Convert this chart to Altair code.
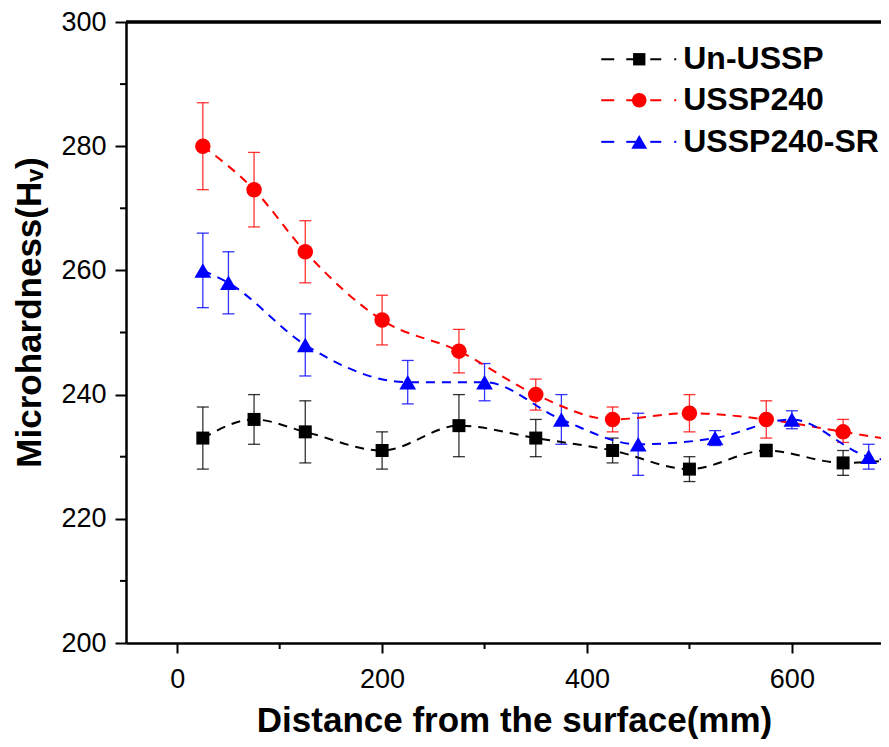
import altair as alt
import pandas as pd

series_names = ["Un-USSP", "USSP240", "USSP240-SR"]
series_colors = ["#000000", "#ff0000", "#0000ff"]
series_shapes = ["square", "circle", "triangle-up"]
series_sizes = [169, 240, 280]

# Un-USSP
x_un = [25, 75, 125, 200, 275, 350, 425, 500, 575, 650, 725]
y_un = [233, 236, 234, 231, 235, 233, 231, 228, 231, 229, 230]
lo_un = [228, 232, 229, 228, 230, 230, 229, 226, 230, 227, 229]
hi_un = [238, 240, 239, 234, 240, 236, 233, 230, 232, 231, 231]

# USSP240
x_r = [25, 75, 125, 200, 275, 350, 425, 500, 575, 650, 725]
y_r = [280, 273, 263, 252, 247, 240, 236, 237, 236, 234, 232]
lo_r = [273, 267, 258, 248, 243.5, 237.5, 234, 234, 233, 232.3, 230.5]
hi_r = [287, 279, 268, 256, 250.5, 242.5, 238, 240, 239, 236, 233.5]

# USSP240-SR
x_b = [25, 50, 125, 225, 300, 375, 450, 525, 600, 675, 750]
y_b = [260, 258, 248, 242, 242, 236, 232, 233, 236, 230, 228.5]
lo_b = [254, 253, 243, 238.5, 239, 232, 227, 231.8, 234.5, 228, 227]
hi_b = [266, 263, 253, 245.5, 245, 240, 237, 234.2, 237.4, 232, 230]

y_ticks = [200, 220, 240, 260, 280, 300]
y_minor = [210, 230, 250, 270, 290]
x_ticks = [0, 200, 400, 600]
x_minor = [100, 300, 500]

rows = []
for name, xs, ys, los, his in [
    (series_names[0], x_un, y_un, lo_un, hi_un),
    (series_names[1], x_r, y_r, lo_r, hi_r),
    (series_names[2], x_b, y_b, lo_b, hi_b),
]:
    for a, b, c, d in zip(xs, ys, los, his):
        rows.append({"series": name, "x": a, "y": b, "lo": c, "hi": d})
df = pd.DataFrame(rows)

W, H = 755, 621
FONT = "Liberation Sans"
X_MIN, X_MAX = -50, 687

xscale = alt.Scale(domain=[X_MIN, X_MAX], nice=False, zero=False)
yscale = alt.Scale(domain=[200, 300], nice=False, zero=False)

# ---- legend layout (placed in the plot's data space, top-right) ----
PX = W / (X_MAX - X_MIN)            # pixels per x unit
legend_rows_y = [294.0, 287.4, 280.7]   # row centres (y units)
legend_cx = 451.0                       # symbol centre (x units)
legend_label_x = legend_cx + 44 / PX    # label start
dash_px = [(-38, -25), (-13, 0), (11, 22), (35, 37)]

leg_rows = []
seg_rows = []
for name, ly in zip(series_names, legend_rows_y):
    leg_rows.append({"series": name, "lx": legend_cx, "tx": legend_label_x, "ly": ly})
    for a, b in dash_px:
        seg_rows.append({"series": name, "x0": legend_cx + a / PX, "x1": legend_cx + b / PX, "ly": ly})
leg_df = pd.DataFrame(leg_rows)
seg_df = pd.DataFrame(seg_rows)

color_scale = alt.Scale(domain=series_names, range=series_colors)
color_enc = alt.Color("series:N", scale=color_scale, legend=None)

x_axis = alt.Axis(
    values=x_ticks,
    title="Distance from the surface(mm)",
    titleX=388,
    titleY=77,
    titleBaseline="middle",
    titleAnchor="middle",
)
y_axis = alt.Axis(
    values=y_ticks,
    title="Microhardness(Hᵥ)",
    titleX=-97,
    titleY=290,
    titleAngle=270,
    titleBaseline="middle",
    titleAnchor="middle",
    tickSize=11,
    labelPadding=9,
)


def X(field):
    return alt.X(field, scale=xscale, axis=x_axis)


def Y(field):
    return alt.Y(field, scale=yscale, axis=y_axis)


errbars = alt.Chart(df).mark_errorbar(
    ticks=True, size=12, thickness=1.3, opacity=0.8, clip=True
).encode(
    x=X("x:Q"),
    y=Y("lo:Q"),
    y2="hi:Q",
    color=color_enc,
)

lines = alt.Chart(df).mark_line(
    strokeDash=[9, 7], strokeWidth=2, interpolate="monotone", clip=True
).encode(
    x=X("x:Q"),
    y=Y("y:Q"),
    color=color_enc,
)

point_layers = []
legend_marker_layers = []
for name, shp, sz in zip(series_names, series_shapes, series_sizes):
    point_layers.append(
        alt.Chart(df)
        .transform_filter(alt.datum.series == name)
        .mark_point(filled=True, opacity=1, clip=True, strokeWidth=0, shape=shp, size=sz)
        .encode(x=X("x:Q"), y=Y("y:Q"), color=color_enc)
    )
    legend_marker_layers.append(
        alt.Chart(leg_df)
        .transform_filter(alt.datum.series == name)
        .mark_point(filled=True, opacity=1, strokeWidth=0, shape=shp, size=sz * 0.9)
        .encode(x=X("lx:Q"), y=Y("ly:Q"), color=color_enc)
    )

legend_segments = alt.Chart(seg_df).mark_rule(strokeWidth=2).encode(
    x=X("x0:Q"), x2="x1:Q", y=Y("ly:Q"), color=color_enc
)
legend_texts = alt.Chart(leg_df).mark_text(
    align="left", baseline="middle", font=FONT, fontSize=32, fontWeight="bold",
    color="#000000",
).encode(x=X("tx:Q"), y=Y("ly:Q"), text="series:N")

ym = pd.DataFrame({"v": y_minor})
xm = pd.DataFrame({"v": x_minor})

y_minor_ticks = alt.Chart(ym).mark_rule(color="#000000", strokeWidth=2).encode(
    y=Y("v:Q"),
    x=alt.value(-6),
    x2=alt.value(0),
)
x_minor_ticks = alt.Chart(xm).mark_rule(color="#000000", strokeWidth=2).encode(
    x=X("v:Q"),
    y=alt.value(H),
    y2=alt.value(H + 6),
)
top_frame = alt.Chart(ym).mark_rule(color="#000000", strokeWidth=2.5).encode(
    x=alt.value(0), x2=alt.value(W), y=alt.value(0)
)

chart = (
    alt.layer(
        errbars, lines, *point_layers,
        legend_segments, *legend_marker_layers, legend_texts,
        y_minor_ticks, x_minor_ticks, top_frame,
    )
    .properties(
        width=W,
        height=H,
        autosize=alt.AutoSizeParams(type="none"),
        padding={"left": 118, "top": 14, "right": 0, "bottom": 96},
    )
    .configure_view(stroke=None)
    .configure_axis(
        grid=False,
        domainColor="#000000",
        domainWidth=2.5,
        tickColor="#000000",
        tickWidth=2,
        tickSize=10,
        labelFont=FONT,
        labelFontSize=27,
        labelColor="#000000",
        labelPadding=13,
        titleFont=FONT,
        titleFontSize=35,
        titleFontWeight="bold",
        titleColor="#000000",
    )
)

chart.save("out.html", embed_options={"renderer": "svg", "actions": False})
